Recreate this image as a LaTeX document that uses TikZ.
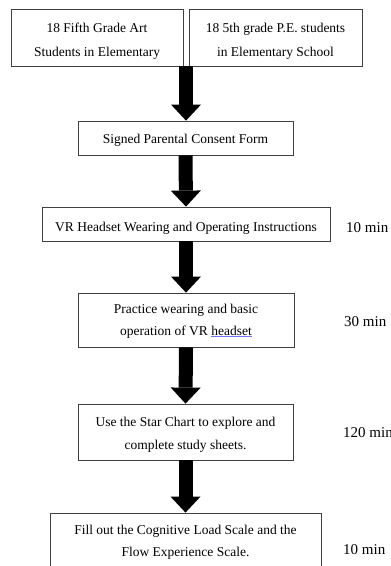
\documentclass[tikz,border=0pt]{standalone}
\usepackage{fontspec}
\setmainfont{Liberation Serif}
\usetikzlibrary{arrows.meta,calc}
\newcommand{\boxlines}[2]{\fontsize{13.5}{#1}\selectfont\begin{tabular}[b]{@{}c@{}}#2\end{tabular}}
\tikzset{
  box/.style={draw=black!75, line width=0.8pt, fill=white, inner sep=0pt, text depth=0pt},
  blockarrow/.style={line width=14pt, -{Triangle[width=30pt,length=16pt,line width=0pt]}},
  timelabel/.style={anchor=base west, inner sep=0pt, font=\fontsize{15}{18}\selectfont},
}
\begin{document}
\begin{tikzpicture}[x=1pt,y=-1pt]
\useasboundingbox (0,0) rectangle (391,566);
\clip (0,0) rectangle (391,566);
\fill[white] (0,0) rectangle (391,566);
\node[box, minimum width=172pt, minimum height=57pt, text height=37pt] (b1) at (97,37.5) {\boxlines{24}{18 Fifth Grade Art\\Students in Elementary}};
\node[box, minimum width=173pt, minimum height=57pt, text height=37pt] (b2) at (275.5,37.5) {\boxlines{24}{18 5th grade P.E. students\\in Elementary School}};
\node[box, minimum width=215pt, minimum height=34pt, text height=10pt] (b3) at (185.5,138) {\boxlines{16}{Signed Parental Consent Form}};
\node[box, minimum width=288pt, minimum height=34pt, text height=14pt] (b4) at (186,224) {\boxlines{16}{VR Headset Wearing and Operating Instructions}};
\node[box, minimum width=216pt, minimum height=54pt, text height=30pt] (b5) at (186,320) {\boxlines{22}{Practice wearing and basic\\operation of VR \textcolor{blue!55}{\underline{\textcolor{black}{headset}}}}};
\node[box, minimum width=215pt, minimum height=56pt, text height=34pt] (b6) at (185.5,432) {\boxlines{23}{Use the Star Chart to explore and\\complete study sheets.}};
\node[box, minimum width=271pt, minimum height=62pt, text height=24pt] (b7) at (185.5,544) {\boxlines{22}{Fill out the Cognitive Load Scale and the\\Flow Experience Scale.}};
\coordinate (m) at ($(b1.south east)!0.5!(b2.south west)$);
\draw[blockarrow] (m) -- (m |- b3.north);
\draw[blockarrow] (b3.south) -- (b4.north);
\draw[blockarrow] (b4.south) -- (b5.north);
\draw[blockarrow] (b5.south) -- (b6.north);
\draw[blockarrow] (b6.south) -- (b7.north);
\node[timelabel] (t1) at (346,232) {10 min};
\node[timelabel] (t2) at (344,326) {30 min};
\node[timelabel] (t3) at (343,437) {120 min};
\node[timelabel] (t4) at (343,554) {10 min};
\end{tikzpicture}
\end{document}
